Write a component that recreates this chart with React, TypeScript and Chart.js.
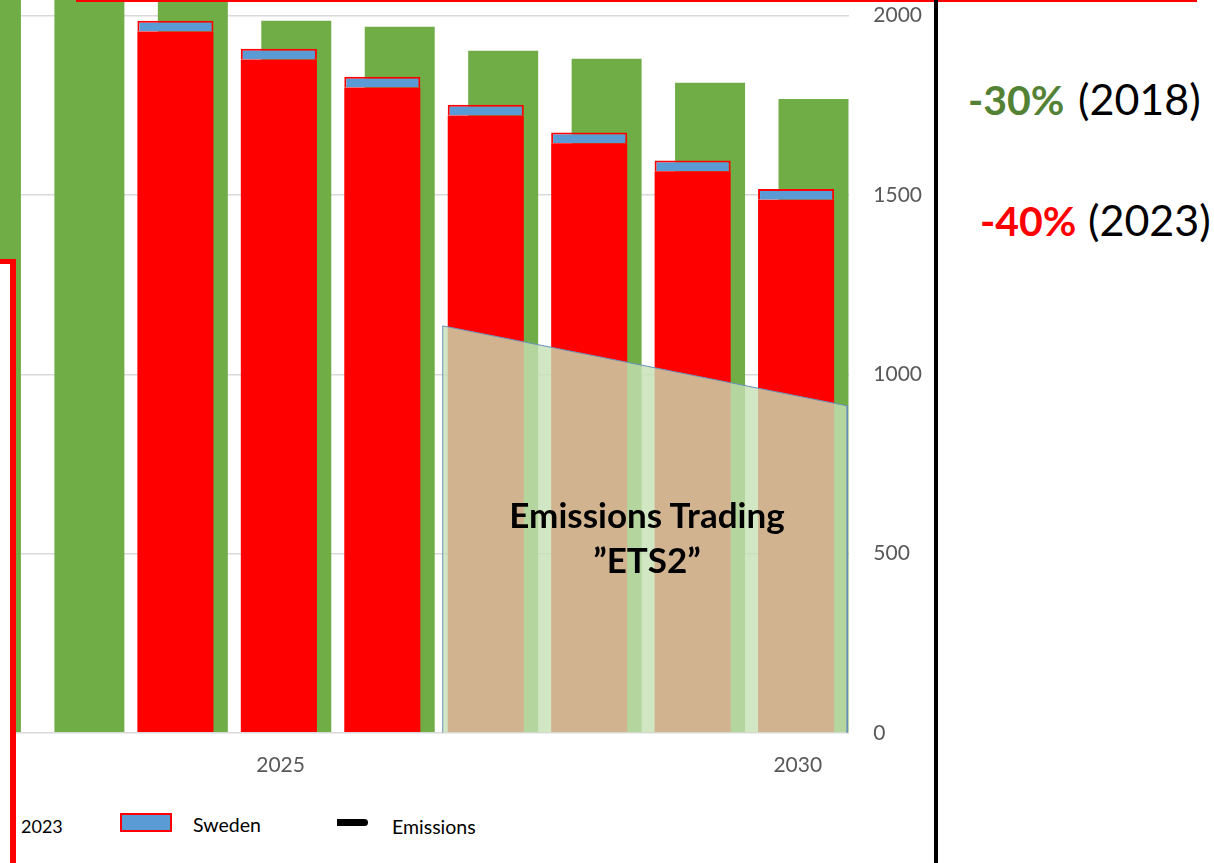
import React, { useEffect, useRef } from "react";
import { Chart, registerables } from "chart.js";

Chart.register(...registerables);

// ---- data ----
const years = [2022, 2023, 2024, 2025, 2026, 2027, 2028, 2029, 2030];
// reduction path decided 2023 (excluding the Swedish share on top)
const path2023 = [null, null, 1956, 1878, 1800, 1722, 1644, 1566, 1487];
// Swedish share stacked on top of the 2023 path
const sweden = [null, null, 30, 30, 30, 30, 30, 30, 30];
// reduction path decided 2018
const path2018 = [2160, 2110, 2060, 1986, 1969, 1902, 1880, 1813, 1768];
// ETS2 area: start / end year positions and cap values
const etsYears = [2026.5, 2030.41];
const etsCap = [1135, 912];
// axis ticks
const xTickYears = [2025, 2030];
const yTickValues = [0, 500, 1000, 1500, 2000];

const FONT = "Lato, 'Open Sans', sans-serif";

export default function App() {
  const ref = useRef<HTMLCanvasElement>(null);

  useEffect(() => {
    const canvas = ref.current;
    if (!canvas) return;
    const etsPoints = [
      { x: etsYears[0], y: 0 },
      { x: etsYears[0], y: etsCap[0] },
      { x: etsYears[1], y: etsCap[1] },
      { x: etsYears[1], y: 0 },
    ];
    const chart = new Chart(canvas, {
      type: "bar",
      data: {
        labels: years,
        datasets: [
          {
            type: "line",
            label: "ETS2",
            data: etsPoints as any,
            borderColor: "#6a8fb8",
            borderWidth: 1,
            backgroundColor: "rgba(197,224,180,0.8)",
            fill: "origin",
            pointRadius: 0,
            tension: 0,
          } as any,
          {
            label: "2023",
            data: path2023 as any,
            backgroundColor: "#FF0000",
            stack: "a",
            barPercentage: 4.37,
          },
          {
            label: "Sweden",
            data: sweden as any,
            backgroundColor: "#5B9BD5",
            borderColor: "#FF0000",
            borderWidth: 2,
            stack: "a",
            barPercentage: 4.37,
          },
          {
            label: "2018",
            data: path2018 as any,
            backgroundColor: "#70AD47",
            stack: "b",
            barPercentage: 4.02,
          },
        ],
      },
      options: {
        responsive: false,
        animation: false,
        events: [],
        layout: { padding: 0 },
        datasets: { bar: { categoryPercentage: 0.3366 } } as any,
        plugins: {
          legend: { display: false },
          tooltip: { enabled: false },
        },
        scales: {
          x: {
            type: "linear",
            min: 2022.22,
            max: 2030.43,
            offset: false,
            grid: { display: false, drawTicks: false, offset: false },
            border: { display: false },
            afterBuildTicks: (s: any) => {
              s.ticks = xTickYears.map((v) => ({ value: v }));
            },
            ticks: {
              callback: (v: any) => String(v),
              font: { family: FONT, size: 21 },
              color: "#595959",
              padding: 20,
              labelOffset: -7,
              maxRotation: 0,
              autoSkip: false,
            },
          },
          y: {
            position: "right",
            min: 0,
            max: 2045,
            afterBuildTicks: (s: any) => {
              s.ticks = yTickValues.map((v) => ({ value: v }));
            },
            grid: { color: "#d9d9d9", lineWidth: 1.5, drawTicks: false },
            border: { display: false },
            ticks: {
              callback: (v: any) => String(v),
              font: { family: FONT, size: 21 },
              color: "#595959",
              padding: 24,
            },
          },
        },
      } as any,
    });
    return () => chart.destroy();
  }, []);

  const abs = (o: React.CSSProperties): React.CSSProperties => ({
    position: "absolute",
    whiteSpace: "nowrap",
    ...o,
  });

  return (
    <div
      style={{
        position: "fixed",
        left: 0,
        top: 0,
        width: 1214,
        height: 863,
        overflow: "hidden",
        background: "#ffffff",
        fontFamily: FONT,
      }}
    >
      <canvas
        ref={ref}
        width={946}
        height={835}
        style={{ position: "absolute", left: 0, top: -37, display: "block" }}
      />

      {/* ETS2 label */}
      <div
        style={abs({
          left: 447,
          top: 492,
          width: 400,
          textAlign: "center",
          fontSize: 35,
          lineHeight: "45px",
          fontWeight: 700,
          color: "#000",
        })}
      >
        Emissions Trading
        <br />
        ”ETS2”
      </div>

      {/* frame pieces of the slide */}
      <div style={abs({ left: 76, top: 0, width: 1121, height: 2, background: "#FF0000" })} />
      <div
        style={abs({
          left: -60,
          top: 259,
          width: 76,
          height: 700,
          boxSizing: "border-box",
          borderTop: "5px solid #FF0000",
          borderRight: "6px solid #FF0000",
          background: "#ffffff",
        })}
      />
      <div style={abs({ left: 934, top: 0, width: 4, height: 863, background: "#000" })} />

      {/* legend */}
      <div style={abs({ left: 21, top: 817, fontSize: 18, lineHeight: 1, color: "#000" })}>2023</div>
      <div
        style={abs({
          left: 120,
          top: 813,
          width: 52,
          height: 19,
          boxSizing: "border-box",
          border: "2px solid #FF0000",
          background: "#5B9BD5",
        })}
      />
      <div style={abs({ left: 193, top: 815, fontSize: 19.5, lineHeight: 1, color: "#000" })}>Sweden</div>
      <div
        style={abs({
          left: 337,
          top: 819,
          width: 31,
          height: 7,
          background: "#000",
          borderRadius: "0 3.5px 3.5px 0",
        })}
      />
      <div style={abs({ left: 392, top: 817, fontSize: 19.5, lineHeight: 1, color: "#000" })}>Emissions</div>

      {/* targets */}
      <div style={abs({ left: 968, top: 79, fontSize: 41, lineHeight: 1, fontWeight: 700, color: "#548235" })}>-30%</div>
      <div style={abs({ left: 1078, top: 77, fontSize: 43, lineHeight: 1, color: "#000" })}>(2018)</div>
      <div style={abs({ left: 980, top: 200, fontSize: 41, lineHeight: 1, fontWeight: 700, color: "#FF0000" })}>-40%</div>
      <div style={abs({ left: 1088, top: 198, fontSize: 43, lineHeight: 1, color: "#000" })}>(2023)</div>
    </div>
  );
}
